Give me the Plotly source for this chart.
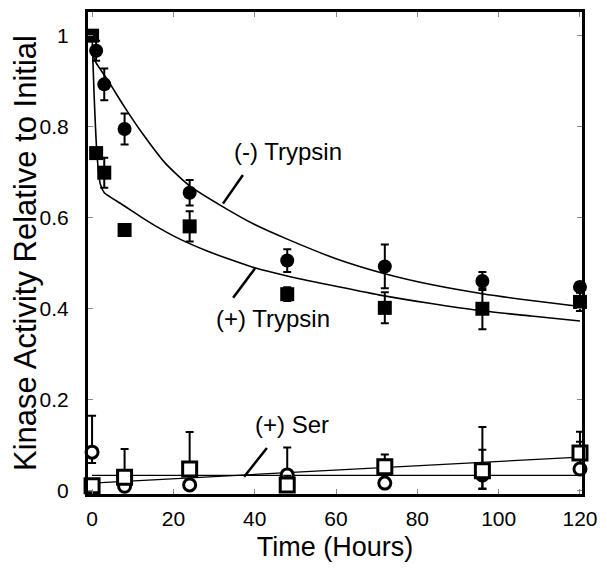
import plotly.graph_objects as go

# ---- data ----
hours = [0, 1, 3, 8, 24, 48, 72, 96, 120]

minus_tryp_x = [1, 3, 8, 24, 48, 72, 96, 120]
minus_tryp_y = [0.967, 0.893, 0.795, 0.655, 0.506, 0.493, 0.461, 0.448]
minus_tryp_err = [0.022, 0.035, 0.034, 0.028, 0.025, 0.048, 0.020, 0.010]

plus_tryp_y = [1.0, 0.742, 0.699, 0.573, 0.581, 0.432, 0.402, 0.400, 0.415]
plus_tryp_err = [0.0, 0.008, 0.033, 0.008, 0.033, 0.015, 0.034, 0.045, 0.020]

ser_x = [0, 8, 24, 48, 72, 96, 120]
ser_circ_y = [0.085, 0.010, 0.013, 0.035, 0.017, 0.035, 0.048]
ser_circ_up = [0.080, 0.0, 0.0, 0.060, 0.0, 0.055, 0.060]
ser_circ_dn = [0.024, 0.0, 0.0, 0.020, 0.0, 0.030, 0.0]
ser_sq_y = [0.011, 0.030, 0.048, 0.013, 0.053, 0.044, 0.083]
ser_sq_up = [0.0, 0.062, 0.081, 0.020, 0.027, 0.096, 0.047]
ser_sq_dn = [0.0, 0.0, 0.0, 0.0, 0.0, 0.040, 0.0]

# fitted curves
minus_fit_x = [0.3, 1, 4, 8, 12, 18, 24, 32, 40, 48, 60, 72, 84, 96, 108, 120]
minus_fit_y = [0.955, 0.940, 0.900, 0.843, 0.790, 0.720, 0.670, 0.625, 0.585, 0.553,
               0.510, 0.477, 0.452, 0.433, 0.418, 0.405]
plus_fit_x = [0, 0.5, 1.2, 2, 3, 4.4, 7.4, 12, 16, 21.6, 28, 34, 40, 48, 58.5, 70.8, 83, 95.4, 108, 120]
plus_fit_y = [1.0, 0.87, 0.74, 0.675, 0.655, 0.646, 0.629, 0.602, 0.580, 0.553, 0.528,
              0.508, 0.490, 0.472, 0.452, 0.430, 0.412, 0.396, 0.384, 0.373]
ser_flat_x = [0, 120]
ser_flat_y = [0.034, 0.034]
ser_rise_x = [0, 120]
ser_rise_y = [0.017, 0.074]

x_ticks = [0, 20, 40, 60, 80, 100, 120]
y_ticks = [0, 0.2, 0.4, 0.6, 0.8, 1]

labels = ["(-) Trypsin", "(+) Trypsin", "(+) Ser"]
label_pos = [(48.2, 0.745), (44.5, 0.378), (49.2, 0.146)]
leaders = [((37.1, 0.694), (32.2, 0.631)),
           ((40.1, 0.489), (34.7, 0.424)),
           ((43.0, 0.094), (37.4, 0.031))]

FONT = "Liberation Sans, Arial, Helvetica, sans-serif"

fig = go.Figure()

# curves
for cx, cy, w in [(minus_fit_x, minus_fit_y, 1.6), (plus_fit_x, plus_fit_y, 1.6),
                  (ser_flat_x, ser_flat_y, 1.3), (ser_rise_x, ser_rise_y, 1.3)]:
    fig.add_trace(go.Scatter(x=cx, y=cy, mode="lines",
                             line=dict(color="black", width=w, shape="spline", smoothing=0.6),
                             showlegend=False, hoverinfo="skip"))

# data markers
fig.add_trace(go.Scatter(
    x=minus_tryp_x, y=minus_tryp_y, mode="markers", cliponaxis=False,
    marker=dict(symbol="circle", size=14, color="black"),
    error_y=dict(type="data", array=minus_tryp_err, color="black", thickness=2, width=4),
    showlegend=False))
fig.add_trace(go.Scatter(
    x=hours, y=plus_tryp_y, mode="markers", cliponaxis=False,
    marker=dict(symbol="square", size=14, color="black"),
    error_y=dict(type="data", array=plus_tryp_err, color="black", thickness=2, width=4),
    showlegend=False))
fig.add_trace(go.Scatter(
    x=ser_x, y=ser_circ_y, mode="markers", cliponaxis=False,
    marker=dict(symbol="circle", size=12, color="white", line=dict(color="black", width=3)),
    error_y=dict(type="data", symmetric=False, array=ser_circ_up, arrayminus=ser_circ_dn,
                 color="black", thickness=2, width=4),
    showlegend=False))
fig.add_trace(go.Scatter(
    x=ser_x, y=ser_sq_y, mode="markers", cliponaxis=False,
    marker=dict(symbol="square", size=14, color="white", line=dict(color="black", width=3)),
    error_y=dict(type="data", symmetric=False, array=ser_sq_up, arrayminus=ser_sq_dn,
                 color="black", thickness=2, width=4),
    showlegend=False))

for txt, (ax, ay) in zip(labels, label_pos):
    fig.add_annotation(x=ax, y=ay, text=txt, showarrow=False,
                       font=dict(family=FONT, size=24, color="black"))
for (p0, p1) in leaders:
    fig.add_shape(type="line", x0=p0[0], y0=p0[1], x1=p1[0], y1=p1[1],
                  line=dict(color="black", width=2.5))

axis_common = dict(showline=True, linecolor="black", linewidth=3, mirror="ticks",
                   ticks="inside", ticklen=5, tickwidth=1, tickcolor="#888888",
                   showgrid=False, zeroline=False,
                   tickfont=dict(family=FONT, size=21, color="black"))

fig.update_xaxes(range=[-1, 120.5], tickvals=x_ticks, ticktext=[str(v) for v in x_ticks],
                 title=dict(text="Time (Hours)", font=dict(family=FONT, size=27, color="black"),
                            standoff=8),
                 ticklabelstandoff=4, **axis_common)
fig.update_yaxes(range=[-0.007, 1.052], tickvals=y_ticks,
                 ticktext=["0", "0.2", "0.4", "0.6", "0.8", "1"],
                 title=dict(text="Kinase Activity Relative to Initial",
                            font=dict(family=FONT, size=31, color="black"), standoff=0),
                 ticklabelstandoff=12, **axis_common)

# the page adds an 8px body margin, so the figure is sized/offset to compensate
fig.update_layout(width=599, height=563, margin=dict(l=80, r=25, t=1, b=77),
                  paper_bgcolor="white", plot_bgcolor="white",
                  font=dict(family=FONT, color="black"))

fig.write_html("out.html")
